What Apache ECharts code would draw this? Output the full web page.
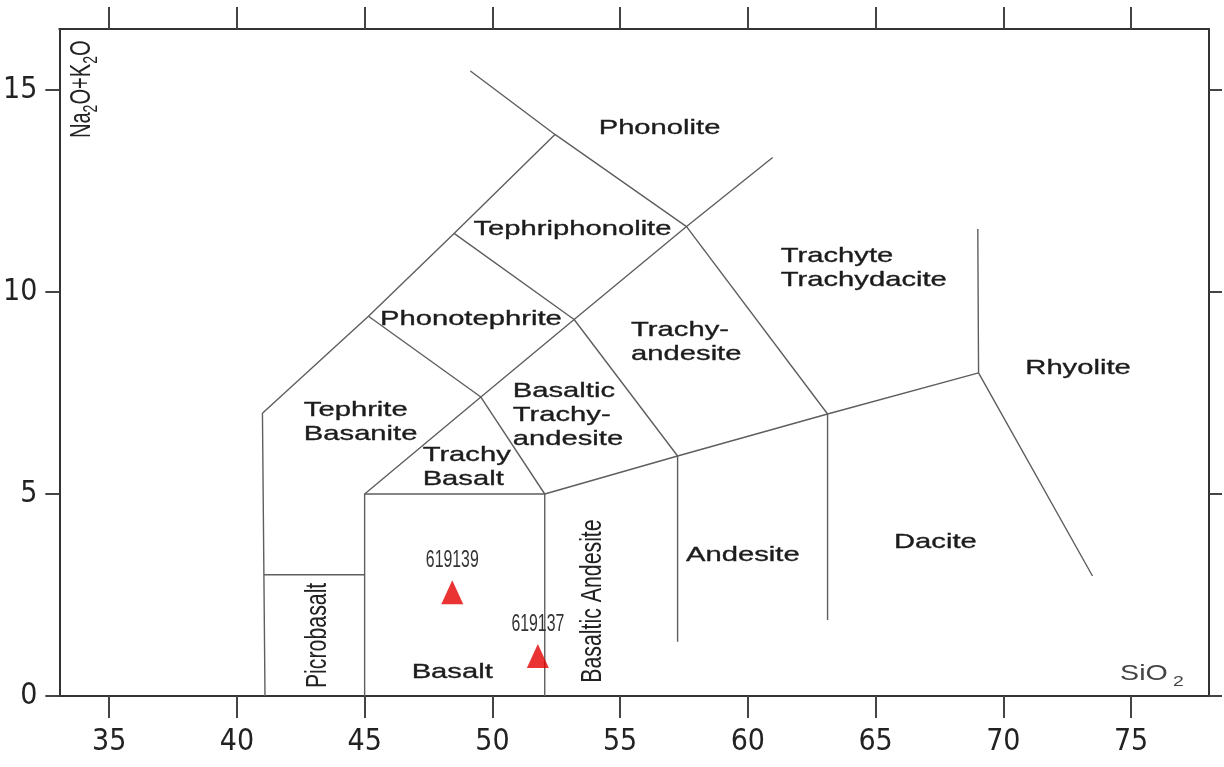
<!DOCTYPE html>
<html><head><meta charset="utf-8">
<script src="https://cdn.jsdelivr.net/npm/echarts@6/dist/echarts.min.js"></script>
<style>html,body{margin:0;padding:0;background:#fff}#chart{width:1224px;height:767px}</style>
</head><body><div id="chart"></div>
<script>
// ---- data ----
const xTicks = [35, 40, 45, 50, 55, 60, 65, 70, 75];
const yTicks = [0, 5, 10, 15];

// TAS field boundaries (SiO2, Na2O+K2O)
const boundaryTephriteOuter = [[41.1, 0], [41, 7], [45.15, 9.4], [48.5, 11.45], [52.45, 13.9]];
const boundaryPhonolite = [[49.14, 15.47], [52.45, 13.9], [57.6, 11.62]];
const boundaryDiagonal = [[45, 5], [49.55, 7.4], [53.2, 9.32], [57.6, 11.62], [60.97, 13.33]];
const boundaryPhonotephriteLow = [[45.15, 9.4], [49.55, 7.4]];
const boundaryPhonotephriteHigh = [[48.5, 11.45], [53.2, 9.32]];
const boundaryTrachybasalt = [[49.55, 7.4], [52.05, 5]];
const boundaryBTA = [[53.2, 9.32], [57.25, 5.94]];
const boundaryTrachyandesite = [[57.6, 11.62], [63.12, 6.98]];
const boundaryBasaltBox = [[45, 0], [45, 5], [52.05, 5], [52.05, 0]];
const boundaryLower = [[52.05, 5], [57.25, 5.94], [63.12, 6.98], [69.03, 8.0]];
const boundaryAndesite = [[57.25, 5.94], [57.25, 1.34]];
const boundaryDacite = [[63.12, 6.98], [63.12, 1.88]];
const boundaryRhyolite = [[69.0, 11.56], [69.03, 8.0], [73.49, 2.97]];
const boundaryPicrobasalt = [[41.06, 3], [45, 3]];
const boundaries = [boundaryTephriteOuter, boundaryPhonolite, boundaryDiagonal, boundaryPhonotephriteLow,
  boundaryPhonotephriteHigh, boundaryTrachybasalt, boundaryBTA, boundaryTrachyandesite, boundaryBasaltBox,
  boundaryLower, boundaryAndesite, boundaryDacite, boundaryRhyolite, boundaryPicrobasalt];

// field names (left edge, vertical middle)
const regionNames = ['Phonolite', 'Tephriphonolite', 'Phonotephrite', 'Tephrite\nBasanite', 'Trachy\nBasalt',
  'Basaltic\nTrachy-\nandesite', 'Trachy-\nandesite', 'Trachyte\nTrachydacite', 'Rhyolite', 'Andesite', 'Dacite', 'Basalt'];
const regionPos = [[54.16, 14.05], [49.26, 11.55], [45.60, 9.32], [42.62, 6.77], [47.27, 5.66],
  [50.80, 6.95], [55.43, 8.75], [61.29, 10.58], [70.86, 8.11], [57.58, 3.48], [65.72, 3.80], [46.84, 0.59]];

// vertical field names (centre)
const verticalNames = ['Picrobasalt', 'Basaltic Andesite'];
const verticalPos = [[43.17, 1.50], [53.91, 2.35]];

// samples
const sampleNames = ['619139', '619137'];
const sampleSiO2 = [48.43, 51.78];
const sampleAlkali = [2.57, 0.99];

// axis titles (rich text: {s|..} is a subscript)
const xTitle = ['SiO{s|2}'];
const xTitlePos = [[74.57, 0.545]];
const yTitle = ['Na{s|2}O+K{s|2}O'];
const yTitlePos = [[33.93, 15.02]];

// ---- chart ----
const SANS = "'Liberation Sans', Arial, Helvetica, sans-serif";
const NARROW = "'Liberation Sans Narrow', 'Arial Narrow', 'DejaVu Sans Condensed', sans-serif";

function textSeries(names, pos, st) {
  return {
    type: 'custom', coordinateSystem: 'cartesian2d', silent: true, clip: false, z: 6,
    data: pos,
    renderItem: function (params, api) {
      const c = api.coord([api.value(0), api.value(1)]);
      const style = { text: names[params.dataIndex], fill: st.color, font: st.font,
        align: st.align, verticalAlign: 'middle', lineHeight: st.lineHeight };
      if (st.stroke) { style.stroke = st.color; style.lineWidth = st.stroke; }
      if (st.rich) style.rich = st.rich;
      return {
        type: 'text', x: c[0] + (st.dx || 0), y: c[1] + (st.dy || 0),
        rotation: st.rotation || 0, scaleX: st.scaleX || 1,
        style: style
      };
    }
  };
}

const series = boundaries.map(function (b) {
  return { type: 'line', data: b, symbol: 'none', silent: true, z: 2,
    lineStyle: { color: '#5e5e5e', width: 1.4 } };
});
series.push(textSeries(regionNames, regionPos, { font: '21px ' + SANS, scaleX: 1.39, color: '#1c1c1c', stroke: 0.35, align: 'left', lineHeight: 24 }));
series.push(textSeries(verticalNames, verticalPos, { font: '30px ' + SANS, scaleX: 0.71, rotation: Math.PI / 2, color: '#222', align: 'center' }));
series.push(textSeries(sampleNames, sampleSiO2.map(function (x, i) { return [x, sampleAlkali[i]]; }),
  { font: '24px ' + SANS, scaleX: 0.66, dy: -31.5, color: '#333', align: 'center' }));
series.push(textSeries(xTitle, xTitlePos, { font: '22px ' + SANS, scaleX: 1.3, color: '#444', align: 'left', lineHeight: 30,
  rich: { s: { fontSize: 15, fontFamily: SANS, fill: '#444', verticalAlign: 'bottom', lineHeight: 30, padding: [0, 0, 0, 4] } } }));
series.push(textSeries(yTitle, yTitlePos, { font: '30px ' + SANS, scaleX: 0.67, rotation: Math.PI / 2, color: '#222', align: 'center', lineHeight: 40,
  rich: { s: { fontSize: 21, fontFamily: SANS, fill: '#222', verticalAlign: 'bottom', lineHeight: 40 } } }));
series.push({
  type: 'scatter', name: 'samples', z: 5, silent: true,
  data: sampleSiO2.map(function (x, i) { return [x, sampleAlkali[i]]; }),
  symbol: 'triangle', symbolSize: [22, 24],
  itemStyle: { color: '#e50000' }
});

const axisLineStyle = { color: '#333', width: 2 };
const tickStyle = { color: '#444', width: 2 };
const xMin = 33.05, xMax = 78.05, yMin = 0, yMax = 16.51;

const option = {
  animation: false,
  backgroundColor: '#fff',
  grid: { left: 57, right: 15, top: 29, bottom: 71, containLabel: false },
  xAxis: [
    { type: 'value', position: 'bottom', min: xMin, max: xMax,
      axisLine: { show: true, onZero: false, lineStyle: axisLineStyle },
      axisTick: { show: true, inside: false, length: 22, customValues: xTicks, lineStyle: tickStyle },
      axisLabel: { show: true, customValues: xTicks, margin: 31, fontSize: 30, fontFamily: NARROW, color: '#222' },
      splitLine: { show: false } },
    { type: 'value', position: 'top', min: xMin, max: xMax,
      axisLine: { show: true, onZero: false, lineStyle: axisLineStyle },
      axisTick: { show: true, inside: false, length: 22, customValues: xTicks, lineStyle: tickStyle },
      axisLabel: { show: false }, splitLine: { show: false } }
  ],
  yAxis: [
    { type: 'value', position: 'left', min: yMin, max: yMax,
      axisLine: { show: true, onZero: false, lineStyle: axisLineStyle },
      axisTick: { show: true, inside: false, length: 14, customValues: yTicks, lineStyle: tickStyle },
      axisLabel: { show: true, customValues: yTicks, margin: 22, fontSize: 30, fontFamily: NARROW, color: '#222' },
      splitLine: { show: false } },
    { type: 'value', position: 'right', min: yMin, max: yMax,
      axisLine: { show: true, onZero: false, lineStyle: axisLineStyle },
      axisTick: { show: true, inside: false, length: 13, customValues: yTicks, lineStyle: tickStyle },
      axisLabel: { show: false }, splitLine: { show: false } }
  ],
  series: series
};

const chart = echarts.init(document.getElementById('chart'), null, { renderer: 'canvas' });
chart.setOption(option);
</script>
</body></html>
